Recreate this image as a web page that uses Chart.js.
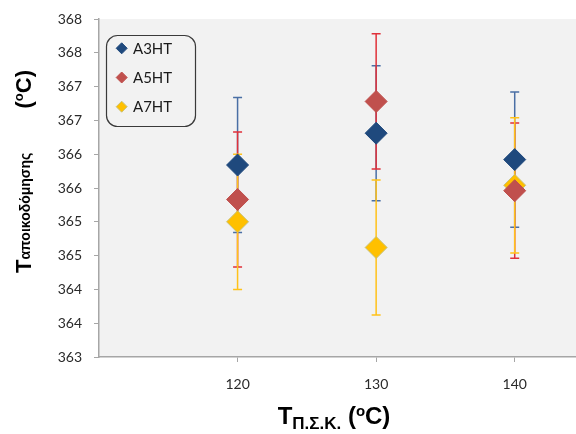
<!DOCTYPE html>
<html>
<head>
<meta charset="utf-8">
<script src="https://cdn.jsdelivr.net/npm/chart.js@4/dist/chart.umd.min.js"></script>
<style>
  html, body { margin: 0; padding: 0; overflow: hidden; background: #fff; width: 576px; height: 434px; }
  #wrap { position: relative; width: 584px; height: 434px; }
</style>
</head>
<body>
<div id="wrap"><canvas id="c"></canvas></div>
<script>
// Degradation temperature vs. processing temperature, three samples
const categories = [120, 130, 140];
const seriesNames = ['A3HT', 'A5HT', 'A7HT'];
const a3ht = [365.84, 366.31, 365.92];
const a5ht = [365.33, 366.78, 365.46];
const a7ht = [365.00, 364.62, 365.54];
const a3htErr = [1.0, 1.0, 1.0];
const a5htErr = [1.0, 1.0, 1.0];
const a7htErr = [1.0, 1.0, 1.0];
const xTicks = [120, 130, 140];
const yTicks = [363, 363.5, 364, 364.5, 365, 365.5, 366, 366.5, 367, 367.5, 368];
const yTickLabels = ['363', '364', '364', '365', '365', '366', '366', '367', '367', '368', '368'];
const xTitleParts = ['T', 'Π.Σ.Κ.', ' (', 'o', 'C)'];
const yTitleParts = ['T', 'αποικοδόμησης', '(', 'o', 'C)'];

const markerColors = ['#1F497D', '#C0504D', '#FFC000'];
const markerBorders = ['#1F497D', '#C0504D', '#C8C27A'];
const errColors = ['#4A6FA5', '#E0313A', '#FFC21A'];
const TICK_FONT = 'Lato';
const TITLE_FONT = '"Liberation Sans", Arial, sans-serif';

function points(vals) {
  return categories.map((x, i) => ({ x: x, y: vals[i] }));
}

const seriesValues = [a3ht, a5ht, a7ht];
const seriesErrs = [a3htErr, a5htErr, a7htErr];

const datasets = seriesNames.map((name, k) => ({
  label: name,
  data: points(seriesValues[k]),
  err: seriesErrs[k],
  errColor: errColors[k],
  showLine: false,
  pointStyle: 'rectRot',
  pointRadius: 11,
  pointHoverRadius: 11,
  pointBorderWidth: 1,
  backgroundColor: markerColors[k],
  borderColor: markerBorders[k]
}));

// Plot background
const plotBg = {
  id: 'plotBg',
  beforeDraw(chart) {
    const { ctx, chartArea: a } = chart;
    ctx.save();
    ctx.fillStyle = '#F2F2F2';
    ctx.fillRect(a.left, a.top, a.right - a.left, a.bottom - a.top);
    ctx.restore();
  }
};

// Vertical error bars with caps, drawn beneath the markers
const errorBars = {
  id: 'errorBars',
  beforeDatasetsDraw(chart) {
    const { ctx, scales: { x, y } } = chart;
    ctx.save();
    ctx.lineWidth = 1.5;
    chart.data.datasets.forEach(ds => {
      ctx.strokeStyle = ds.errColor;
      ds.data.forEach((p, i) => {
        const px = x.getPixelForValue(p.x);
        const top = y.getPixelForValue(p.y + ds.err[i]);
        const bot = y.getPixelForValue(p.y - ds.err[i]);
        ctx.beginPath();
        ctx.moveTo(px, top); ctx.lineTo(px, bot);
        ctx.moveTo(px - 4.5, top); ctx.lineTo(px + 4.5, top);
        ctx.moveTo(px - 4.5, bot); ctx.lineTo(px + 4.5, bot);
        ctx.stroke();
      });
    });
    ctx.restore();
  }
};

function diamond(ctx, cx, cy, r, fill, stroke) {
  ctx.beginPath();
  ctx.moveTo(cx, cy - r);
  ctx.lineTo(cx + r, cy);
  ctx.lineTo(cx, cy + r);
  ctx.lineTo(cx - r, cy);
  ctx.closePath();
  ctx.fillStyle = fill;
  ctx.fill();
  ctx.strokeStyle = stroke;
  ctx.lineWidth = 1;
  ctx.stroke();
}

// Boxed legend with rounded corners
const boxLegend = {
  id: 'boxLegend',
  afterDatasetsDraw(chart) {
    const ctx = chart.ctx;
    ctx.save();
    ctx.beginPath();
    ctx.roundRect(106.5, 35.5, 89, 91, 11);
    ctx.strokeStyle = '#3a3a3a';
    ctx.lineWidth = 1.2;
    ctx.stroke();
    ctx.font = '15px ' + TICK_FONT;
    ctx.textBaseline = 'alphabetic';
    ctx.textAlign = 'left';
    chart.data.datasets.forEach((ds, k) => {
      const cy = 48.3 + k * 29.2;
      diamond(ctx, 121.7, cy, 5.5, markerColors[k], markerBorders[k]);
      ctx.fillStyle = '#1a1a1a';
      ctx.fillText(ds.label, 133, cy + 5.5);
    });
    ctx.restore();
  }
};

function drawRuns(ctx, runs, x0, y0) {
  let x = x0;
  runs.forEach(r => {
    ctx.font = r.font;
    ctx.fillText(r.text, x, y0 + (r.dy || 0));
    x += ctx.measureText(r.text).width;
  });
}
function runsWidth(ctx, runs) {
  let w = 0;
  runs.forEach(r => { ctx.font = r.font; w += ctx.measureText(r.text).width; });
  return w;
}

// Axis titles with subscripts / superscripts
const axisTitles = {
  id: 'axisTitles',
  afterDraw(chart) {
    const ctx = chart.ctx;
    ctx.save();
    ctx.fillStyle = '#000';
    ctx.textAlign = 'left';
    ctx.textBaseline = 'alphabetic';

    const xr = [
      { text: xTitleParts[0], font: 'bold 24px ' + TITLE_FONT },
      { text: xTitleParts[1], font: 'bold 17px ' + TITLE_FONT, dy: 5 },
      { text: xTitleParts[2], font: 'bold 24px ' + TITLE_FONT },
      { text: xTitleParts[3], font: 'bold 15px ' + TITLE_FONT, dy: -8 },
      { text: xTitleParts[4], font: 'bold 24px ' + TITLE_FONT }
    ];
    const xw = runsWidth(ctx, xr);
    drawRuns(ctx, xr, 334 - xw / 2, 424);

    // vertical title: symbol with subscript at the bottom, unit at the top
    const yMain = [
      { text: yTitleParts[0], font: 'bold 22px ' + TITLE_FONT },
      { text: yTitleParts[1], font: 'bold 14px ' + TITLE_FONT, dy: -1 }
    ];
    const yUnit = [
      { text: yTitleParts[2], font: 'bold 22px ' + TITLE_FONT },
      { text: yTitleParts[3], font: 'bold 13px ' + TITLE_FONT, dy: -8 },
      { text: yTitleParts[4], font: 'bold 22px ' + TITLE_FONT }
    ];
    ctx.translate(31, 0);
    ctx.rotate(-Math.PI / 2);
    drawRuns(ctx, yMain, -273, 0);
    const uw = runsWidth(ctx, yUnit);
    drawRuns(ctx, yUnit, -70 - uw, 0);
    ctx.restore();
  }
};

new Chart(document.getElementById('c'), {
  type: 'scatter',
  data: { datasets: datasets },
  plugins: [plotBg, errorBars, boxLegend, axisTitles],
  options: {
    responsive: true,
    maintainAspectRatio: false,
    animation: false,
    devicePixelRatio: 1,
    layout: { autoPadding: false, padding: { left: 0, right: 0, top: 19, bottom: 0 } },
    plugins: { legend: { display: false }, tooltip: { enabled: false } },
    scales: {
      x: {
        type: 'linear',
        position: 'bottom',
        min: 110,
        max: 145,
        afterBuildTicks(s) { s.ticks = xTicks.map(v => ({ value: v })); },
        afterFit(s) { s.height = 77; s.paddingLeft = 0; s.paddingRight = 0; },
        grid: { drawOnChartArea: false, drawTicks: true, tickLength: 5, color: '#A6A6A6' },
        border: { display: true, color: '#A6A6A6', width: 1.5 },
        ticks: { padding: 14, font: { family: TICK_FONT, size: 14 }, color: '#2a2a2a', maxRotation: 0 }
      },
      y: {
        min: 363,
        max: 368,
        afterBuildTicks(s) { s.ticks = yTicks.map(v => ({ value: v })); },
        afterFit(s) { s.width = 99; s.paddingTop = 0; s.paddingBottom = 0; },
        grid: { drawOnChartArea: false, drawTicks: true, tickLength: 5, color: '#A6A6A6' },
        border: { display: true, color: '#A6A6A6', width: 1.5 },
        ticks: {
          padding: 12,
          font: { family: TICK_FONT, size: 14 },
          color: '#2a2a2a',
          callback: (v, i) => yTickLabels[i]
        }
      }
    }
  }
});
</script>
</body>
</html>
